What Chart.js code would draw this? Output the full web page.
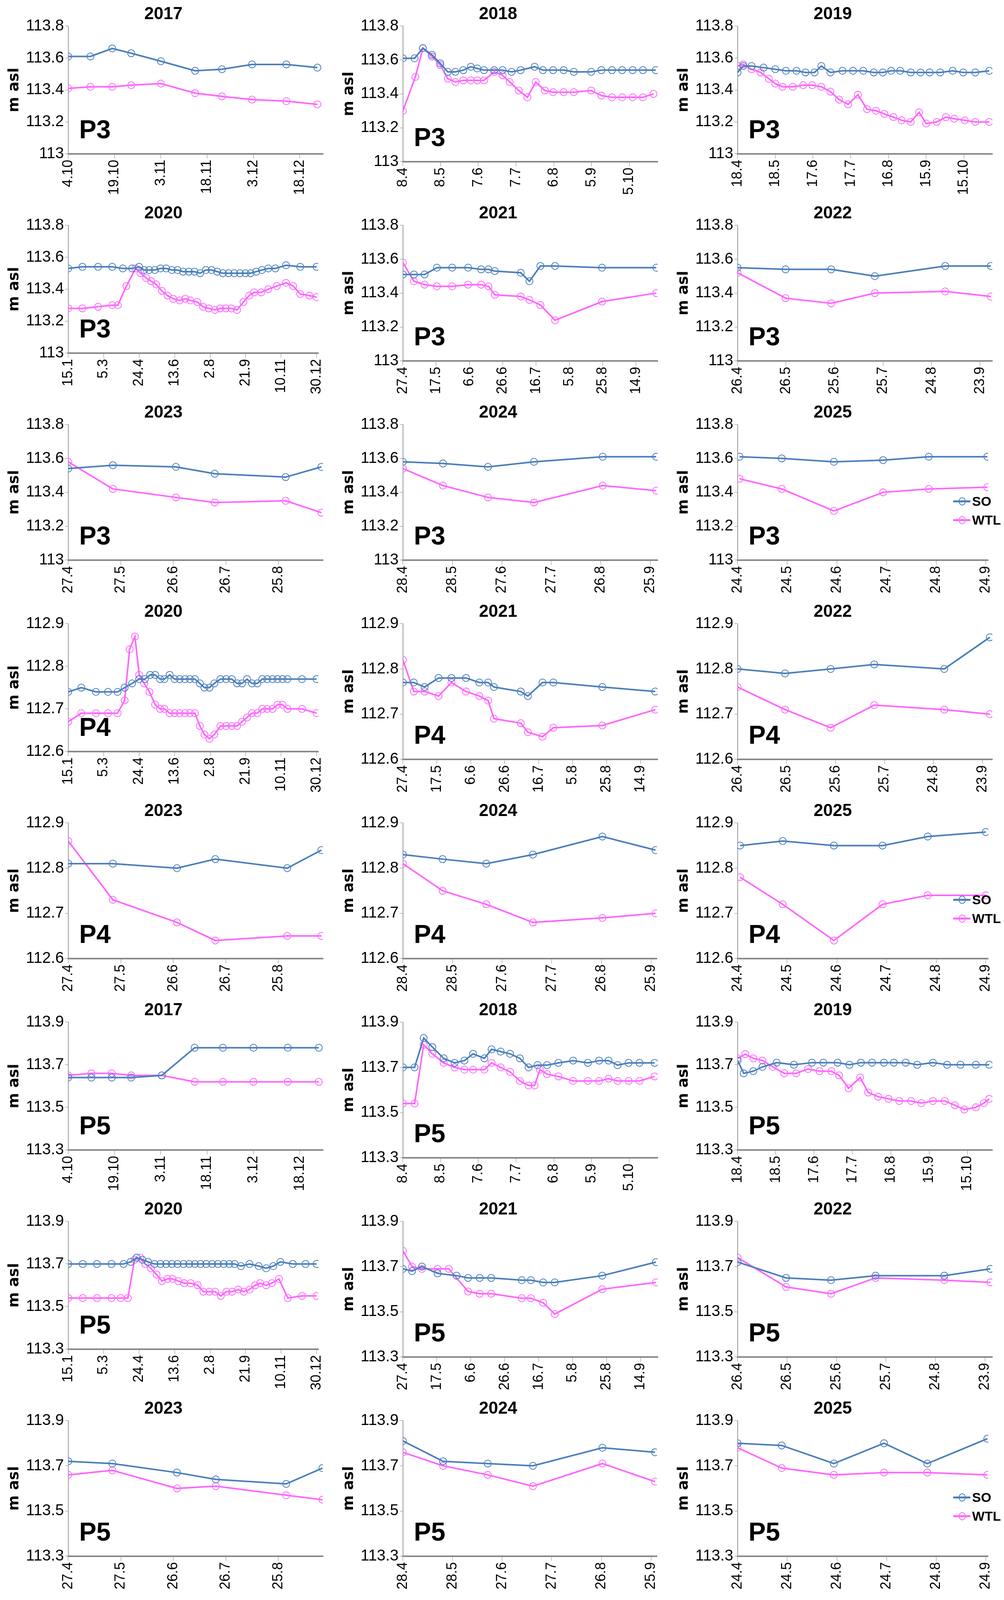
<!DOCTYPE html>
<html>
<head>
<meta charset="utf-8">
<script src="https://cdn.jsdelivr.net/npm/chart.js@4.4.0/dist/chart.umd.min.js"></script>
<style>
  html, body { margin: 0; padding: 0; background: #fff; }
  #grid { display: grid; grid-template-columns: repeat(3, 857px); grid-template-rows: repeat(9, 510px); width: 2571px; }
  .cell { position: relative; width: 857px; height: 510px; }
  .legend { position: absolute; right: 8px; bottom: 175px; font: bold 34px "Liberation Sans Narrow", "Liberation Sans", sans-serif; }
  .legend div { display: flex; align-items: center; height: 48px; }
  .legend .ln { position: relative; width: 44px; height: 5px; margin-right: 4px; }
  .legend .ln::after { content: ""; position: absolute; left: 14px; top: -8px; width: 14px; height: 17px; border: 2px solid currentColor; border-radius: 50%; }
</style>
</head>
<body>
<div id="grid"></div>
<script>
// ---- tick labels (x axis, one per integer position) ----
var T2017 = ["4.10", "19.10", "3.11", "18.11", "3.12", "18.12"];
var T2018 = ["8.4", "8.5", "7.6", "7.7", "6.8", "5.9", "5.10"];
var T2019 = ["18.4", "18.5", "17.6", "17.7", "16.8", "15.9", "15.10"];
var T2020 = ["15.1", "5.3", "24.4", "13.6", "2.8", "21.9", "10.11", "30.12"];
var T2021 = ["27.4", "17.5", "6.6", "26.6", "16.7", "5.8", "25.8", "14.9"];
var T2022 = ["26.4", "26.5", "25.6", "25.7", "24.8", "23.9"];
var T2023 = ["27.4", "27.5", "26.6", "26.7", "25.8"];
var T2024 = ["28.4", "28.5", "27.6", "27.7", "26.8", "25.9"];
var T2025 = ["24.4", "24.5", "24.6", "24.7", "24.8", "24.9"];

// ---- series: [position in tick units, level m asl] ----
var P3_2017_SO = [[0,113.61],[0.48,113.61],[0.95,113.66],[1.36,113.63],[2.0,113.58],[2.74,113.52],[3.32,113.53],[3.97,113.56],[4.71,113.56],[5.38,113.54]];
var P3_2017_WTL = [[0,113.41],[0.48,113.42],[0.95,113.42],[1.36,113.43],[2.0,113.44],[2.74,113.38],[3.32,113.36],[3.97,113.34],[4.71,113.33],[5.38,113.31]];
var P3_2018_SO = [[0,113.61],[0.31,113.61],[0.53,113.67],[0.77,113.63],[0.99,113.58],[1.19,113.53],[1.39,113.53],[1.6,113.54],[1.8,113.56],[1.97,113.55],[2.15,113.54],[2.42,113.54],[2.64,113.54],[2.88,113.53],[3.12,113.54],[3.49,113.56],[3.71,113.54],[3.98,113.54],[4.26,113.54],[4.53,113.53],[4.99,113.53],[5.26,113.54],[5.54,113.54],[5.81,113.54],[6.09,113.54],[6.36,113.54],[6.7,113.54]];
var P3_2018_WTL = [[0,113.30],[0.33,113.50],[0.53,113.67],[0.77,113.62],[0.99,113.57],[1.19,113.49],[1.39,113.47],[1.6,113.48],[1.8,113.48],[1.97,113.48],[2.15,113.48],[2.42,113.53],[2.64,113.51],[2.83,113.47],[3.07,113.42],[3.3,113.38],[3.52,113.47],[3.76,113.42],[3.98,113.41],[4.26,113.41],[4.53,113.41],[4.99,113.42],[5.26,113.39],[5.54,113.38],[5.81,113.38],[6.09,113.38],[6.36,113.38],[6.64,113.40]];
var P3_2019_SO = [[0,113.51],[0.15,113.55],[0.37,113.55],[0.69,113.54],[1.0,113.53],[1.28,113.52],[1.56,113.52],[1.8,113.51],[2.04,113.51],[2.22,113.55],[2.46,113.51],[2.78,113.52],[3.06,113.52],[3.33,113.52],[3.61,113.51],[3.85,113.51],[4.07,113.52],[4.31,113.52],[4.59,113.51],[4.85,113.51],[5.09,113.51],[5.37,113.51],[5.7,113.52],[5.98,113.51],[6.3,113.51],[6.67,113.52]];
var P3_2019_WTL = [[0,113.55],[0.15,113.56],[0.37,113.53],[0.61,113.51],[0.83,113.47],[1.0,113.44],[1.19,113.42],[1.46,113.42],[1.74,113.43],[1.98,113.43],[2.22,113.42],[2.46,113.39],[2.69,113.34],[2.93,113.31],[3.19,113.37],[3.43,113.28],[3.67,113.27],[3.89,113.25],[4.13,113.23],[4.35,113.21],[4.59,113.20],[4.81,113.26],[5.0,113.19],[5.28,113.20],[5.52,113.23],[5.74,113.22],[6.02,113.21],[6.3,113.20],[6.67,113.20]];
var P3_2020_SO = [[0,113.53],[0.4,113.54],[0.84,113.54],[1.24,113.54],[1.54,113.53],[1.8,113.53],[2.0,113.54],[2.14,113.52],[2.28,113.52],[2.44,113.52],[2.6,113.53],[2.76,113.53],[2.92,113.52],[3.08,113.52],[3.24,113.51],[3.4,113.51],[3.56,113.51],[3.72,113.50],[3.88,113.52],[4.04,113.52],[4.2,113.51],[4.36,113.50],[4.52,113.50],[4.68,113.50],[4.84,113.50],[5.0,113.50],[5.14,113.50],[5.3,113.51],[5.46,113.52],[5.64,113.53],[5.84,113.53],[6.14,113.55],[6.54,113.54],[7.0,113.54]];
var P3_2020_WTL = [[0,113.28],[0.4,113.28],[0.84,113.29],[1.24,113.30],[1.4,113.30],[1.64,113.42],[1.9,113.53],[2.04,113.50],[2.2,113.47],[2.34,113.45],[2.48,113.43],[2.64,113.39],[2.8,113.36],[2.96,113.34],[3.14,113.33],[3.3,113.34],[3.44,113.33],[3.64,113.32],[3.8,113.29],[3.96,113.28],[4.14,113.27],[4.28,113.28],[4.44,113.28],[4.6,113.28],[4.76,113.27],[4.94,113.32],[5.1,113.36],[5.24,113.38],[5.44,113.38],[5.64,113.40],[5.88,113.42],[6.14,113.44],[6.34,113.42],[6.54,113.37],[6.8,113.36],[7.0,113.35]];
var P3_2021_SO = [[0,113.51],[0.33,113.51],[0.65,113.51],[1.02,113.55],[1.48,113.55],[1.96,113.55],[2.35,113.54],[2.57,113.54],[2.76,113.53],[3.54,113.52],[3.8,113.47],[4.13,113.56],[4.57,113.56],[5.98,113.55],[7.61,113.55]];
var P3_2021_WTL = [[0,113.58],[0.33,113.47],[0.65,113.45],[1.02,113.44],[1.48,113.44],[1.96,113.45],[2.35,113.45],[2.57,113.44],[2.76,113.39],[3.54,113.38],[3.8,113.36],[4.13,113.33],[4.57,113.24],[5.98,113.35],[7.61,113.40]];
var P3_2022_SO = [[0,113.55],[0.99,113.54],[1.93,113.54],[2.83,113.50],[4.28,113.56],[5.22,113.56]];
var P3_2022_WTL = [[0,113.52],[0.99,113.37],[1.93,113.34],[2.83,113.40],[4.28,113.41],[5.22,113.38]];
var P3_2023_SO = [[0,113.54],[0.85,113.56],[2.05,113.55],[2.79,113.51],[4.14,113.49],[4.82,113.55]];
var P3_2023_WTL = [[0,113.58],[0.85,113.42],[2.05,113.37],[2.79,113.34],[4.14,113.35],[4.82,113.28]];
var P3_2024_SO = [[0,113.58],[0.81,113.57],[1.72,113.55],[2.65,113.58],[4.04,113.61],[5.12,113.61]];
var P3_2024_WTL = [[0,113.54],[0.81,113.44],[1.72,113.37],[2.65,113.34],[4.04,113.44],[5.12,113.41]];
var P3_2025_SO = [[0.04,113.61],[0.89,113.60],[1.94,113.58],[2.93,113.59],[3.85,113.61],[5.03,113.61]];
var P3_2025_WTL = [[0.04,113.48],[0.89,113.42],[1.94,113.29],[2.93,113.40],[3.85,113.42],[5.03,113.43]];

var P4_2020_SO = [[0,112.74],[0.37,112.75],[0.78,112.74],[1.12,112.74],[1.39,112.74],[1.59,112.75],[1.8,112.76],[2.0,112.77],[2.16,112.77],[2.31,112.78],[2.45,112.78],[2.59,112.77],[2.71,112.77],[2.86,112.78],[3.0,112.77],[3.14,112.77],[3.29,112.77],[3.43,112.77],[3.57,112.77],[3.71,112.76],[3.84,112.75],[3.98,112.75],[4.12,112.76],[4.29,112.77],[4.45,112.77],[4.61,112.77],[4.76,112.76],[4.9,112.76],[5.04,112.77],[5.18,112.76],[5.33,112.76],[5.47,112.77],[5.61,112.77],[5.76,112.77],[5.9,112.77],[6.04,112.77],[6.18,112.77],[6.59,112.77],[7.0,112.77]];
var P4_2020_WTL = [[0,112.67],[0.37,112.69],[0.78,112.69],[1.12,112.69],[1.39,112.69],[1.59,112.72],[1.73,112.84],[1.88,112.87],[2.0,112.78],[2.14,112.76],[2.29,112.74],[2.45,112.71],[2.59,112.70],[2.71,112.70],[2.86,112.69],[3.0,112.69],[3.14,112.69],[3.29,112.69],[3.43,112.69],[3.57,112.69],[3.71,112.66],[3.84,112.64],[3.98,112.63],[4.12,112.64],[4.29,112.66],[4.45,112.66],[4.61,112.66],[4.76,112.66],[4.9,112.67],[5.04,112.68],[5.18,112.69],[5.33,112.69],[5.47,112.70],[5.61,112.70],[5.76,112.70],[5.9,112.71],[6.04,112.71],[6.18,112.70],[6.59,112.70],[7.0,112.69]];
var P4_2021_SO = [[0,112.77],[0.32,112.77],[0.64,112.76],[1.05,112.78],[1.43,112.78],[1.86,112.78],[2.25,112.77],[2.51,112.77],[2.68,112.76],[3.47,112.75],[3.68,112.74],[4.11,112.77],[4.43,112.77],[5.87,112.76],[7.43,112.75]];
var P4_2021_WTL = [[0,112.82],[0.32,112.75],[0.64,112.75],[1.05,112.74],[1.43,112.77],[1.86,112.75],[2.25,112.74],[2.51,112.73],[2.68,112.69],[3.47,112.68],[3.68,112.66],[4.11,112.65],[4.43,112.67],[5.87,112.675],[7.43,112.71]];
var P4_2022_SO = [[0,112.80],[0.97,112.79],[1.9,112.80],[2.79,112.81],[4.22,112.80],[5.15,112.87]];
var P4_2022_WTL = [[0,112.76],[0.97,112.71],[1.9,112.67],[2.79,112.72],[4.22,112.71],[5.15,112.70]];
var P4_2023_SO = [[0,112.81],[0.85,112.81],[2.07,112.80],[2.8,112.82],[4.17,112.80],[4.82,112.84]];
var P4_2023_WTL = [[0,112.86],[0.85,112.73],[2.07,112.68],[2.8,112.64],[4.17,112.65],[4.82,112.65]];
var P4_2024_SO = [[0,112.83],[0.8,112.82],[1.68,112.81],[2.62,112.83],[4.02,112.87],[5.09,112.84]];
var P4_2024_WTL = [[0,112.81],[0.8,112.75],[1.68,112.72],[2.62,112.68],[4.02,112.69],[5.09,112.70]];
var P4_2025_SO = [[0.05,112.85],[0.91,112.86],[1.94,112.85],[2.92,112.85],[3.83,112.87],[5.0,112.88]];
var P4_2025_WTL = [[0.05,112.78],[0.91,112.72],[1.94,112.64],[2.92,112.72],[3.83,112.74],[5.0,112.74]];

var P5_2017_SO = [[0,113.64],[0.5,113.64],[0.94,113.64],[1.36,113.64],[2.02,113.65],[2.73,113.78],[3.34,113.78],[4.0,113.78],[4.74,113.78],[5.41,113.78]];
var P5_2017_WTL = [[0,113.65],[0.5,113.66],[0.94,113.66],[1.36,113.65],[2.02,113.65],[2.73,113.62],[3.34,113.62],[4.0,113.62],[4.74,113.62],[5.41,113.62]];
var P5_2018_SO = [[0,113.70],[0.31,113.70],[0.55,113.83],[0.78,113.79],[1.08,113.74],[1.37,113.72],[1.63,113.73],[1.86,113.76],[2.16,113.74],[2.35,113.78],[2.59,113.77],[2.84,113.76],[3.1,113.74],[3.33,113.70],[3.57,113.71],[3.82,113.71],[4.12,113.72],[4.51,113.73],[4.9,113.72],[5.2,113.73],[5.45,113.73],[5.69,113.71],[5.98,113.72],[6.27,113.72],[6.67,113.72]];
var P5_2018_WTL = [[0,113.54],[0.31,113.54],[0.55,113.80],[0.78,113.76],[1.08,113.72],[1.37,113.70],[1.63,113.69],[1.86,113.69],[2.16,113.69],[2.35,113.72],[2.59,113.70],[2.84,113.68],[3.1,113.64],[3.33,113.62],[3.49,113.62],[3.63,113.69],[3.82,113.67],[4.12,113.66],[4.51,113.64],[4.9,113.64],[5.2,113.64],[5.45,113.65],[5.69,113.64],[5.98,113.64],[6.27,113.64],[6.67,113.66]];
var P5_2019_SO = [[0,113.72],[0.16,113.66],[0.41,113.67],[0.65,113.69],[1.02,113.71],[1.47,113.70],[1.94,113.71],[2.24,113.71],[2.61,113.71],[2.92,113.70],[3.22,113.71],[3.51,113.71],[3.82,113.71],[4.08,113.71],[4.39,113.71],[4.69,113.70],[5.1,113.71],[5.47,113.70],[5.82,113.70],[6.22,113.70],[6.57,113.70]];
var P5_2019_WTL = [[0,113.73],[0.2,113.75],[0.41,113.73],[0.65,113.72],[0.92,113.69],[1.22,113.66],[1.53,113.66],[1.84,113.68],[2.14,113.67],[2.45,113.67],[2.65,113.65],[2.9,113.59],[3.2,113.64],[3.41,113.57],[3.67,113.55],[3.94,113.54],[4.22,113.53],[4.53,113.53],[4.8,113.52],[5.1,113.53],[5.41,113.53],[5.67,113.51],[5.92,113.49],[6.22,113.50],[6.43,113.52],[6.57,113.54]];
var P5_2020_SO = [[0,113.70],[0.41,113.70],[0.81,113.70],[1.22,113.70],[1.56,113.70],[1.76,113.71],[1.93,113.73],[2.09,113.72],[2.25,113.71],[2.43,113.70],[2.6,113.70],[2.76,113.70],[2.92,113.70],[3.08,113.70],[3.25,113.70],[3.41,113.70],[3.57,113.70],[3.73,113.70],[3.89,113.70],[4.06,113.70],[4.22,113.70],[4.38,113.70],[4.54,113.70],[4.69,113.70],[4.87,113.69],[5.11,113.70],[5.37,113.69],[5.58,113.68],[5.78,113.69],[5.98,113.71],[6.33,113.70],[6.69,113.70],[7.0,113.70]];
var P5_2020_WTL = [[0,113.54],[0.41,113.54],[0.81,113.54],[1.22,113.54],[1.48,113.54],[1.68,113.54],[1.87,113.72],[2.03,113.73],[2.17,113.70],[2.33,113.68],[2.49,113.65],[2.64,113.62],[2.8,113.63],[2.94,113.63],[3.1,113.62],[3.27,113.61],[3.45,113.61],[3.65,113.60],[3.81,113.57],[3.98,113.57],[4.14,113.57],[4.3,113.55],[4.46,113.57],[4.62,113.57],[4.79,113.58],[4.95,113.57],[5.11,113.58],[5.27,113.60],[5.41,113.61],[5.58,113.60],[5.74,113.61],[5.94,113.63],[6.19,113.54],[6.59,113.55],[7.0,113.55]];
var P5_2021_SO = [[0,113.69],[0.27,113.68],[0.56,113.70],[1.02,113.67],[1.58,113.66],[1.92,113.65],[2.26,113.65],[2.6,113.65],[3.5,113.64],[3.77,113.64],[4.13,113.63],[4.47,113.63],[5.87,113.66],[7.45,113.72]];
var P5_2021_WTL = [[0,113.77],[0.27,113.70],[0.56,113.69],[1.02,113.69],[1.35,113.69],[1.92,113.59],[2.26,113.58],[2.6,113.58],[3.5,113.56],[3.77,113.56],[4.13,113.54],[4.47,113.49],[5.87,113.60],[7.45,113.63]];
var P5_2022_SO = [[0,113.72],[0.98,113.65],[1.89,113.64],[2.79,113.66],[4.18,113.66],[5.11,113.69]];
var P5_2022_WTL = [[0,113.74],[0.98,113.61],[1.89,113.58],[2.79,113.65],[4.18,113.64],[5.11,113.63]];
var P5_2023_SO = [[0,113.72],[0.84,113.71],[2.07,113.67],[2.81,113.64],[4.15,113.62],[4.84,113.69]];
var P5_2023_WTL = [[0,113.66],[0.84,113.68],[2.07,113.60],[2.81,113.61],[4.15,113.57],[4.84,113.55]];
var P5_2024_SO = [[0,113.81],[0.81,113.72],[1.71,113.71],[2.62,113.70],[4.02,113.78],[5.08,113.76]];
var P5_2024_WTL = [[0,113.76],[0.81,113.70],[1.71,113.66],[2.62,113.61],[4.02,113.71],[5.08,113.63]];
var P5_2025_SO = [[0,113.80],[0.89,113.79],[1.94,113.71],[2.95,113.80],[3.82,113.71],[5.03,113.82]];
var P5_2025_WTL = [[0,113.78],[0.89,113.69],[1.94,113.66],[2.95,113.67],[3.82,113.67],[5.03,113.66]];

var YR_P3 = [113, 113.8, 0.2];
var YR_P4 = [112.6, 112.9, 0.1];
var YR_P5 = [113.3, 113.9, 0.2];

var SO_COLOR = "#4a7ebb";
var WTL_COLOR = "#ff66ff";

var panels = [
  ["2017", "P3", T2017, 5.5, YR_P3, P3_2017_SO, P3_2017_WTL],
  ["2018", "P3", T2018, 6.75, YR_P3, P3_2018_SO, P3_2018_WTL],
  ["2019", "P3", T2019, 6.75, YR_P3, P3_2019_SO, P3_2019_WTL],
  ["2020", "P3", T2020, 7.05, YR_P3, P3_2020_SO, P3_2020_WTL],
  ["2021", "P3", T2021, 7.65, YR_P3, P3_2021_SO, P3_2021_WTL],
  ["2022", "P3", T2022, 5.25, YR_P3, P3_2022_SO, P3_2022_WTL],
  ["2023", "P3", T2023, 4.85, YR_P3, P3_2023_SO, P3_2023_WTL],
  ["2024", "P3", T2024, 5.15, YR_P3, P3_2024_SO, P3_2024_WTL],
  ["2025", "P3", T2025, 5.05, YR_P3, P3_2025_SO, P3_2025_WTL, true],
  ["2020", "P4", T2020, 7.05, YR_P4, P4_2020_SO, P4_2020_WTL],
  ["2021", "P4", T2021, 7.5, YR_P4, P4_2021_SO, P4_2021_WTL],
  ["2022", "P4", T2022, 5.2, YR_P4, P4_2022_SO, P4_2022_WTL],
  ["2023", "P4", T2023, 4.85, YR_P4, P4_2023_SO, P4_2023_WTL],
  ["2024", "P4", T2024, 5.12, YR_P4, P4_2024_SO, P4_2024_WTL],
  ["2025", "P4", T2025, 5.05, YR_P4, P4_2025_SO, P4_2025_WTL, true],
  ["2017", "P5", T2017, 5.5, YR_P5, P5_2017_SO, P5_2017_WTL],
  ["2018", "P5", T2018, 6.75, YR_P5, P5_2018_SO, P5_2018_WTL],
  ["2019", "P5", T2019, 6.65, YR_P5, P5_2019_SO, P5_2019_WTL],
  ["2020", "P5", T2020, 7.05, YR_P5, P5_2020_SO, P5_2020_WTL],
  ["2021", "P5", T2021, 7.5, YR_P5, P5_2021_SO, P5_2021_WTL],
  ["2022", "P5", T2022, 5.15, YR_P5, P5_2022_SO, P5_2022_WTL],
  ["2023", "P5", T2023, 4.85, YR_P5, P5_2023_SO, P5_2023_WTL],
  ["2024", "P5", T2024, 5.12, YR_P5, P5_2024_SO, P5_2024_WTL],
  ["2025", "P5", T2025, 5.05, YR_P5, P5_2025_SO, P5_2025_WTL, true]
];

// big "P3"/"P4"/"P5" tag in the lower left of the plot
var siteTag = {
  id: "siteTag",
  afterDraw: function (chart) {
    var t = chart.options.plugins.siteTag;
    if (!t) return;
    var a = chart.chartArea, ctx = chart.ctx;
    ctx.save();
    ctx.font = "bold 66px 'Liberation Sans Narrow', 'Liberation Sans', sans-serif";
    ctx.fillStyle = "#000";
    ctx.textBaseline = "alphabetic";
    ctx.fillText(t.text, a.left + 28, a.bottom - 40);
    ctx.restore();
  }
};
Chart.register(siteTag);

function series(label, pts, color) {
  return {
    label: label,
    data: pts.map(function (p) { return { x: p[0], y: p[1] }; }),
    borderColor: color,
    backgroundColor: color,
    borderWidth: 4,
    pointRadius: 9,
    pointBorderWidth: 2,
    pointBackgroundColor: "rgba(255,255,255,0)",
    pointBorderColor: color,
    tension: 0
  };
}

var grid = document.getElementById("grid");
panels.forEach(function (p) {
  var cell = document.createElement("div");
  cell.className = "cell";
  var cv = document.createElement("canvas");
  cell.appendChild(cv);
  grid.appendChild(cell);
  if (p[7]) {
    var lg = document.createElement("div");
    lg.className = "legend";
    lg.innerHTML =
      '<div><span class="ln" style="background:' + SO_COLOR + ';color:' + SO_COLOR + '"></span>SO</div>' +
      '<div><span class="ln" style="background:' + WTL_COLOR + ';color:' + WTL_COLOR + '"></span>WTL</div>';
    cell.appendChild(lg);
  }
  var ticks = p[2];
  new Chart(cv, {
    type: "line",
    data: { datasets: [series("SO", p[5], SO_COLOR), series("WTL", p[6], WTL_COLOR)] },
    options: {
      responsive: true,
      maintainAspectRatio: false,
      animation: false,
      layout: { padding: { left: 10, right: 30, top: 10, bottom: 8 } },
      plugins: {
        legend: { display: false },
        tooltip: { enabled: false },
        title: {
          display: true, text: p[0], color: "#000",
          font: { family: "'Liberation Sans Narrow', 'Liberation Sans', sans-serif", size: 44, weight: "bold" },
          padding: { top: 0, bottom: 4 }
        },
        siteTag: { text: p[1] }
      },
      scales: {
        x: {
          type: "linear", min: 0, max: p[3],
          afterBuildTicks: function (s) {
            s.ticks = ticks.map(function (_, i) { return { value: i }; });
          },
          ticks: {
            stepSize: 1, autoSkip: false, maxRotation: 90, minRotation: 90, color: "#000",
            font: { family: "'Liberation Sans', sans-serif", size: 36 },
            callback: function (v) { return ticks[v]; }
          },
          grid: { display: true, drawOnChartArea: false, drawTicks: true, tickLength: 12, color: "#888" },
          border: { display: true, color: "#888", width: 4 }
        },
        y: {
          min: p[4][0], max: p[4][1],
          ticks: {
            stepSize: p[4][2], color: "#000",
            font: { family: "'Liberation Sans Narrow', 'Liberation Sans', sans-serif", size: 40 },
            callback: function (v) { return String(Math.round(v * 10) / 10); }
          },
          title: {
            display: true, text: "m asl", color: "#000",
            font: { family: "'DejaVu Sans', sans-serif", size: 38, weight: "bold" }
          },
          grid: { display: true, drawOnChartArea: false, drawTicks: true, tickLength: 8, color: "#888" },
          border: { display: true, color: "#999", width: 2 }
        }
      }
    }
  });
});
</script>
</body>
</html>
